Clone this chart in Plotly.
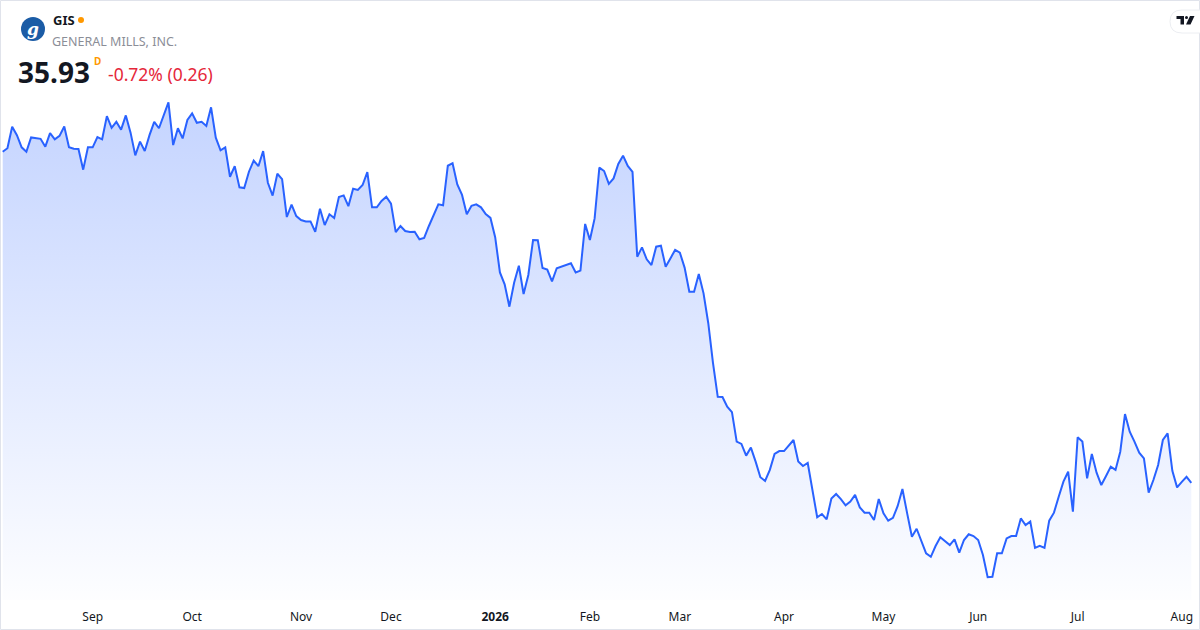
import pandas as pd
import plotly.graph_objects as go

# jours fériés NYSE sur la période
holidays = ["2025-09-01", "2025-11-27", "2025-12-25", "2026-01-01", "2026-01-19",
            "2026-02-16", "2026-04-03", "2026-05-25", "2026-06-19", "2026-07-03"]
first_day = "2025-08-05"

# clôtures journalières GIS
closes = [
    50.33, 50.48, 51.42, 51.05, 50.52, 50.33, 50.95, 50.91, 50.89, 50.55,
    51.14, 50.87, 51.02, 51.43, 50.53, 50.46, 50.45, 49.55, 50.52, 50.52,
    50.97, 50.87, 51.88, 51.37, 51.63, 51.29, 51.91, 51.16, 50.17, 50.77,
    50.36, 51.05, 51.63, 51.35, 51.90, 52.48, 50.62, 51.35, 50.91, 51.71,
    52.00, 51.59, 51.63, 51.45, 52.26, 50.94, 50.39, 50.52, 49.24, 49.70,
    48.78, 48.75, 49.46, 49.94, 49.70, 50.36, 48.98, 48.42, 49.37, 49.14,
    47.49, 48.03, 47.53, 47.36, 47.30, 47.30, 46.85, 47.85, 47.14, 47.61,
    47.45, 48.36, 48.43, 47.96, 48.72, 48.67, 48.88, 49.44, 47.91, 47.91,
    48.19, 48.37, 48.07, 46.83, 47.10, 46.88, 46.84, 46.85, 46.52, 46.58,
    47.10, 47.61, 48.04, 48.00, 49.72, 49.83, 48.91, 48.45, 47.61, 47.98,
    48.04, 47.91, 47.62, 47.45, 46.61, 45.08, 44.56, 43.59, 44.63, 45.37,
    44.14, 44.97, 46.49, 46.48, 45.27, 45.20, 44.69, 45.26, 45.33, 45.40,
    45.48, 45.08, 45.16, 47.19, 46.49, 47.43, 49.64, 49.49, 48.93, 49.17,
    49.80, 50.16, 49.71, 49.45, 45.76, 46.17, 45.65, 45.40, 46.20, 46.24,
    45.33, 45.69, 46.06, 45.94, 45.29, 44.24, 44.24, 45.01, 44.17, 42.87,
    41.13, 39.67, 39.66, 39.24, 39.00, 37.72, 37.62, 37.11, 37.46, 36.85,
    36.17, 36.01, 36.49, 37.18, 37.31, 37.31, 37.54, 37.79, 36.86, 36.66,
    36.79, 35.62, 34.43, 34.57, 34.34, 35.24, 35.44, 35.22, 34.95, 35.11,
    35.40, 34.86, 34.63, 34.63, 34.31, 35.22, 34.60, 34.28, 34.40, 34.92,
    35.66, 34.60, 33.58, 33.93, 33.35, 32.86, 32.71, 33.18, 33.56, 33.40,
    33.22, 33.47, 32.89, 33.44, 33.69, 33.61, 33.44, 32.79, 31.82, 31.84,
    32.86, 32.86, 33.51, 33.61, 33.61, 34.38, 34.09, 34.24, 33.10, 33.19,
    33.10, 34.28, 34.63, 35.32, 35.98, 36.41, 34.67, 37.91, 37.72, 36.12,
    37.18, 36.37, 35.83, 36.22, 36.63, 36.49, 37.28, 38.92, 38.15, 37.72,
    37.24, 36.99, 35.50, 36.05, 36.70, 37.79, 38.08, 36.45, 35.73, 35.97,
    36.19, 35.93,
]

month_labels = ["Sep", "Oct", "Nov", "Dec", "<b>2026</b>", "Feb", "Mar", "Apr",
                "May", "Jun", "Jul", "Aug"]

ticker = "GIS"
company = "GENERAL MILLS, INC."
last_price = "35.93"
change_txt = "-0.72% (0.26)"

# axe des séances (pas de trous week-ends / fériés)
bday = pd.offsets.CustomBusinessDay(holidays=holidays)
dates = pd.date_range(first_day, periods=len(closes), freq=bday)
labels = [d.strftime("%Y-%m-%d") for d in dates]

df = pd.DataFrame({"date": dates, "label": labels, "close": closes})
df["mois"] = df["date"].dt.to_period("M")
firsts = df.groupby("mois").head(1).iloc[1:]  # premier jour de chaque mois (sauf août 2025)
tickvals = list(firsts["label"])

W, H = 1200, 630
PLOT_B = 600  # bas de la zone de tracé en pixels


def px(x):
    return x / W


def py(y):
    return (PLOT_B - y) / PLOT_B


y_lo, y_hi = 30.83, 56.93
blue = "#2962ff"

fig = go.Figure()
fig.add_trace(
    go.Scatter(
        x=df["label"],
        y=df["close"],
        mode="lines",
        line=dict(color=blue, width=2),
        fill="tozeroy",
        fillgradient=dict(
            type="vertical",
            start=y_lo,
            stop=53.0,
            colorscale=[[0, "rgba(41,98,255,0.01)"], [1, "rgba(41,98,255,0.28)"]],
        ),
        hoverinfo="skip",
        showlegend=False,
    )
)

n = len(closes)
fig.update_layout(
    width=W,
    height=H,
    margin=dict(l=0, r=0, t=0, b=H - PLOT_B),
    paper_bgcolor="white",
    plot_bgcolor="white",
    font=dict(family="Noto Sans", color="#131722"),
    xaxis=dict(
        type="category",
        range=[-0.57, n - 1 + 1.84],
        tickvals=tickvals,
        ticktext=month_labels,
        showgrid=False,
        zeroline=False,
        showline=False,
        ticks="",
        tickfont=dict(size=12, color="#131722"),
        ticklabelstandoff=8,
    ),
    yaxis=dict(range=[y_lo, y_hi], visible=False),
)


def note(x, y, text, size, color, anchor="left", family=None):
    f = dict(size=size, color=color)
    if family:
        f["family"] = family
    fig.add_annotation(x=px(x), y=py(y), xref="paper", yref="paper", text=text,
                       xanchor=anchor, yanchor="middle", showarrow=False, font=f)


# cadre arrondi autour du graphique
fig.add_shape(type="rect", xref="paper", yref="paper",
              x0=px(0.5), x1=px(1199.5), y0=py(629.5), y1=py(0.5),
              line=dict(color="#e0e3eb", width=1), layer="above")

# logo General Mills
fig.add_shape(type="circle", xref="paper", yref="paper",
              x0=px(21), x1=px(45), y0=py(41), y1=py(17),
              fillcolor="#1b5ca6", line=dict(width=0))
note(33, 29, "<b><i>g</i></b>", 17, "white", anchor="center", family="DejaVu Serif")

# en-tête
note(51, 20, f"<b>{ticker}</b>", 13, "#131722")
fig.add_shape(type="circle", xref="paper", yref="paper",
              x0=px(78), x1=px(84), y0=py(23), y1=py(17),
              fillcolor="#ff9800", line=dict(width=0))
note(50, 41, company, 12.5, "#8b8e97")
note(16, 72, f"<b>{last_price}</b>", 28, "#131722")
note(92, 61, "<b>D</b>", 10, "#ff9800")
note(106, 74, change_txt, 17.5, "#e5273a")

# pastille TradingView en haut à droite
fig.add_shape(type="path", xref="paper", yref="paper",
              path=f"M {px(1182)} {py(10)} L {px(1205)} {py(10)} L {px(1205)} {py(33)} "
                   f"L {px(1182)} {py(33)} Q {px(1170)} {py(33)} {px(1170)} {py(21.5)} "
                   f"Q {px(1170)} {py(10)} {px(1182)} {py(10)} Z",
              fillcolor="white", line=dict(color="#eceef2", width=1))
fig.add_shape(type="rect", xref="paper", yref="paper",
              x0=px(1176.5), x1=px(1184), y0=py(19), y1=py(16),
              fillcolor="#131722", line=dict(width=0))
fig.add_shape(type="rect", xref="paper", yref="paper",
              x0=px(1180.5), x1=px(1184), y0=py(24.5), y1=py(16),
              fillcolor="#131722", line=dict(width=0))
fig.add_shape(type="circle", xref="paper", yref="paper",
              x0=px(1185), x1=px(1188), y0=py(19), y1=py(16),
              fillcolor="#131722", line=dict(width=0))
fig.add_shape(type="path", xref="paper", yref="paper",
              path=f"M {px(1190)} {py(16)} L {px(1194.5)} {py(16)} L {px(1190.5)} {py(24.5)} "
                   f"L {px(1186)} {py(24.5)} Z",
              fillcolor="#131722", line=dict(width=0))

fig.write_html("out.html", config={"displayModeBar": False},
               post_script="document.body.style.margin='0';")
